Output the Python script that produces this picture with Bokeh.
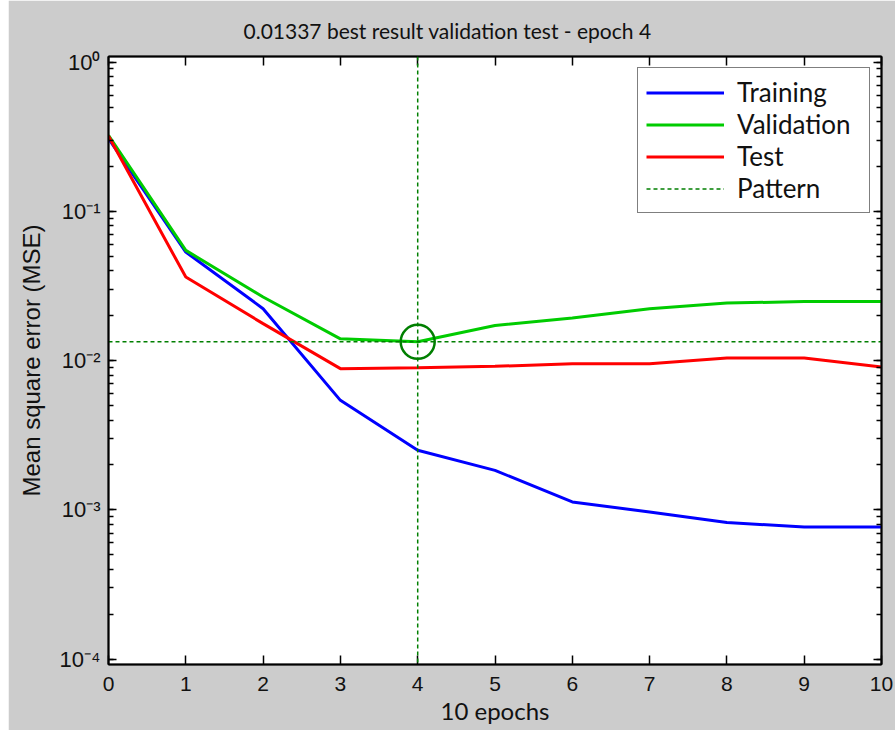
from bokeh.plotting import figure
from bokeh.models import (FixedTicker, LogTicker, LinearAxis, LogAxis, Span, Legend, LegendItem, Range1d)
from bokeh.embed import file_html
from bokeh.resources import INLINE

# ---- data ----
epochs = [0, 1, 2, 3, 4, 5, 6, 7, 8, 9, 10]
training = [0.308, 0.0534, 0.0223, 0.00542, 0.00251, 0.00184, 0.00113, 0.000968, 0.000822, 0.000768, 0.000768]
validation = [0.323, 0.0548, 0.0267, 0.0140, 0.01337, 0.0172, 0.0193, 0.0223, 0.0243, 0.0249, 0.0249]
test = [0.320, 0.0363, 0.0177, 0.00884, 0.00897, 0.00916, 0.00955, 0.00955, 0.0104, 0.0104, 0.00906]
best_epoch = 4
best_perf = 0.01337
y_ticks = [1e-4, 1e-3, 1e-2, 1e-1, 1e0]
y_tick_labels = ["10\u207b\u2074", "10\u207b\u00b3", "10\u207b\u00b2", "10\u207b\u00b9", "10\u2070"]
x_ticks = list(range(0, 11))
title_text = "0.01337 best result validation test - epoch 4"

GRAY = "#CCCCCC"
BLUE = "#0000FF"
GREEN = "#00CC00"
RED = "#FF0000"
DKGREEN = "#007F00"
TXT = "#111111"

p = figure(width=887, height=730, y_axis_type="log",
           x_range=Range1d(0, 10), y_range=Range1d(10 ** -4.036, 10 ** 0.038),
           output_backend="svg", toolbar_location=None,
           min_border_left=100, min_border_right=14, min_border_top=56, min_border_bottom=66,
           margin=(0, 0, 0, 8))
p.border_fill_color = GRAY
p.background_fill_color = "white"
p.outline_line_color = "black"
p.outline_line_width = 1.5
p.grid.visible = False

# title
p.title.text = title_text
p.title.text_font = "Lato"
p.title.text_font_size = "21px"
p.title.text_font_style = "normal"
p.title.text_color = TXT
p.title.align = "left"
p.title.offset = 135
p.title.standoff = 28

# bottom axis
xa = p.xaxis[0]
xa.ticker = FixedTicker(ticks=x_ticks)
xa.axis_label = "10 epochs"
xa.axis_label_text_font = "Lato"
xa.axis_label_text_font_size = "24px"
xa.axis_label_text_font_style = "normal"
xa.axis_label_text_color = TXT
xa.axis_label_standoff = 2
xa.major_label_text_font = "Liberation Sans"
xa.major_label_text_font_size = "21px"
xa.major_label_text_color = TXT
xa.major_label_standoff = 12
xa.major_tick_in = 9
xa.major_tick_out = 0
xa.minor_tick_in = 0
xa.minor_tick_out = 0
xa.axis_line_width = 2
xa.major_tick_line_width = 1.5

# left axis
ya = p.yaxis[0]
ya.ticker = LogTicker(desired_num_ticks=5, num_minor_ticks=10)
ya.major_label_overrides = {t: lab for t, lab in zip(y_ticks, y_tick_labels)}
ya.axis_label = "Mean square error (MSE)"
ya.axis_label_text_font = "Liberation Sans"
ya.axis_label_text_font_size = "24px"
ya.axis_label_text_font_style = "normal"
ya.axis_label_text_color = TXT
ya.axis_label_standoff = 12
ya.major_label_text_font = "Liberation Sans"
ya.major_label_text_font_size = "22px"
ya.major_label_text_color = TXT
ya.major_label_standoff = 8
ya.major_tick_in = 8
ya.major_tick_out = 0
ya.minor_tick_in = 5
ya.minor_tick_out = 0
ya.axis_line_width = 2
ya.major_tick_line_width = 1.5
ya.minor_tick_line_width = 1.5

# mirrored axes (top/right) with ticks only
top = LinearAxis(ticker=FixedTicker(ticks=x_ticks), major_label_text_font_size="2px",
                 major_label_text_color=None,
                 major_label_standoff=0, major_tick_in=9, major_tick_out=0,
                 minor_tick_in=0, minor_tick_out=0, axis_line_width=2, major_tick_line_width=1.5)
right = LogAxis(ticker=LogTicker(desired_num_ticks=5, num_minor_ticks=10), major_label_text_font_size="2px",
                major_label_text_color=None,
                major_label_standoff=0, major_tick_in=8, major_tick_out=0,
                minor_tick_in=5, minor_tick_out=0, axis_line_width=2,
                major_tick_line_width=1.5, minor_tick_line_width=1.5)
p.add_layout(top, "above")
p.add_layout(right, "right")

# data lines
r_tr = p.line(epochs, training, line_color=BLUE, line_width=3)
r_va = p.line(epochs, validation, line_color=GREEN, line_width=3)
r_te = p.line(epochs, test, line_color=RED, line_width=3)

# best pattern
r_pat = p.line([epochs[0], epochs[-1]], [best_perf, best_perf], line_color=DKGREEN,
               line_width=1.5, line_dash="4 3")
p.add_layout(Span(location=best_epoch, dimension="height", line_color=DKGREEN,
                  line_width=1.5, line_dash="4 3"))
p.scatter([best_epoch], [best_perf], marker="circle", size=34, fill_color=None,
          line_color=DKGREEN, line_width=2.5)

legend = Legend(items=[LegendItem(label="Training", renderers=[r_tr]),
                       LegendItem(label="Validation", renderers=[r_va]),
                       LegendItem(label="Test", renderers=[r_te]),
                       LegendItem(label="Pattern", renderers=[r_pat])],
                location="top_right")
legend.label_text_font = "Lato"
legend.label_text_font_size = "26px"
legend.label_text_color = TXT
legend.border_line_color = "black"
legend.border_line_width = 1.5
legend.background_fill_color = "white"
legend.background_fill_alpha = 1.0
legend.glyph_width = 78
legend.glyph_height = 31
legend.label_height = 31
legend.label_width = 124
legend.spacing = 0
legend.padding = 8
legend.label_standoff = 13
legend.margin = 11
p.add_layout(legend)

open("out.html", "w").write(file_html(p, INLINE))
